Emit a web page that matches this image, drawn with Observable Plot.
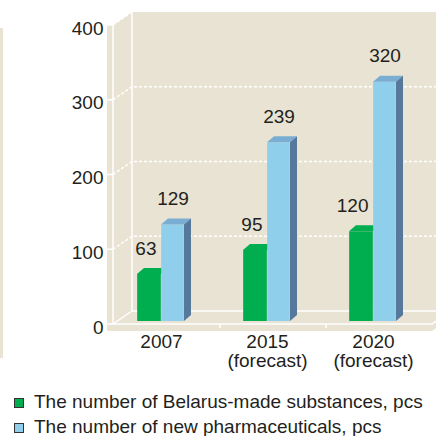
<!DOCTYPE html>
<html><head><meta charset="utf-8">
<script src="https://cdn.jsdelivr.net/npm/d3@7"></script>
<script src="https://cdn.jsdelivr.net/npm/@observablehq/plot@0.6"></script>
<style>
html,body{margin:0;padding:0;background:#fff;}
#wrap{position:relative;width:436px;height:436px;overflow:hidden;font-family:"Liberation Sans",Arial,Helvetica,sans-serif;color:#231f20;}
#strip{position:absolute;left:0;top:28px;width:3px;height:330px;background:#e8e3d3;}
#chart{position:absolute;left:0;top:0;}
#chart svg{display:block;}
#legend{position:absolute;left:0;top:389px;width:436px;}
.row{position:relative;height:25px;}
.sw{position:absolute;left:14px;top:9px;width:8px;height:8px;border:1px solid #333;}
.lab{position:absolute;left:34px;top:0;line-height:25px;font-size:19px;white-space:nowrap;}
</style></head>
<body><div id="wrap"><div id="strip"></div><div id="chart"></div><div id="legend"></div></div>
<script>
// ---- data ----
const years = ["2007", "2015", "2020"];
const yearLabels = ["2007", "2015\n(forecast)", "2020\n(forecast)"];
const substances = [63, 95, 120];
const pharmaceuticals = [129, 239, 320];
const seriesNames = ["The number of Belarus-made substances, pcs", "The number of new pharmaceuticals, pcs"];
const yTicks = [0, 100, 200, 300, 400];

// ---- styling ----
const GREEN = "#00ad4f", BLUE = "#8fcfec", BLUE_TOP = "#79aed2", BLUE_SIDE = "#56789a";
const BEIGE = "#e8e3d3";
const W = 436, H = 380, ML = 107, MR = 10, MT = 25, MB = 56;
const BW = (W - ML - MR) / years.length;
const BAR_DY = -3, DX = 7, DY = -6;       // bar depth
const STRIP = 6, WX = 19, WY = -13, SLAB = 7; // wall depth

const green = years.map((y, i) => ({year: y, value: substances[i]}));
const blue = years.map((y, i) => ({year: y, value: pharmaceuticals[i]}));

function pts(a) { return a.map(p => p.join(",")).join(" "); }

function decor(index, scales, values, dims) {
  const x = scales.x, y = scales.y;
  const Wd = dims.width;
  const L = dims.marginLeft, R = dims.width - dims.marginRight;
  const fx0 = L + STRIP, fxR = R + STRIP, bx = fx0 + WX;
  const yT = y(400), y0 = y(0);
  const g = d3.create("svg:g");
  g.append("polygon").attr("fill", BEIGE).attr("points", pts([
    [L, yT], [fx0, yT], [bx, yT + WY], [Wd, yT + WY], [Wd, y0 + WY],
    [Wd, y0 + SLAB + (Wd - fxR) * WY / WX], [fxR, y0 + SLAB], [L, y0 + SLAB]]));
  const line = (a, dash) => {
    const p = g.append("polyline").attr("points", pts(a)).attr("fill", "none")
      .attr("stroke", "#fff").attr("stroke-width", 1.5);
    if (dash) p.attr("stroke-dasharray", "3,2");
  };
  // gridlines (dotted)
  for (const v of yTicks) {
    if (v > 0 && v < 400) line([[fx0, y(v)], [bx, y(v) + WY], [Wd, y(v) + WY]], true);
  }
  line([[fx0, yT], [bx, yT + WY]], true);
  line([[fx0, yT], [fx0, y0]]);
  line([[bx, yT + WY], [bx, y0 + WY]]);
  line([[bx, y0 + WY], [Wd, y0 + WY]]);
  line([[fx0, y0], [bx, y0 + WY]]);
  line([[fx0, y0], [fxR, y0], [fxR + WX, y0 + WY]]);
  for (const v of yTicks) line([[L, y(v)], [fx0, y(v)]]);
  for (let i = 1; i < years.length; i++) {
    const xb = x(years[i]) + STRIP;
    line([[xb, y0], [xb, y0 + 4]]);
  }
  return g.node();
}

function faces(data, x0off, x1off, topColor, sideColor) {
  return (index, scales) => {
    const x = scales.x, y = scales.y;
    const bw = typeof x.bandwidth === "function" ? x.bandwidth() : BW;
    const g = d3.create("svg:g");
    for (const d of data) {
      const c = x(d.year) + bw / 2;
      const xa = c + x0off, xb = c + x1off;
      const top = y(d.value) + BAR_DY, base = y(0) + BAR_DY;
      g.append("polygon").attr("fill", topColor)
        .attr("points", pts([[xa, top], [xa + DX, top + DY], [xb + DX, top + DY], [xb, top]]));
      if (sideColor) g.append("polygon").attr("fill", sideColor)
        .attr("points", pts([[xb, top], [xb + DX, top + DY], [xb + DX, base + DY], [xb, base]]));
    }
    return g.node();
  };
}

const chart = Plot.plot({
  width: W, height: H,
  marginLeft: ML, marginRight: MR, marginTop: MT, marginBottom: MB,
  x: {domain: years, padding: 0, label: null},
  y: {domain: [0, 400], label: null},
  style: {fontFamily: "'Liberation Sans', Arial, Helvetica, sans-serif", fontSize: "19px", color: "#231f20", background: "transparent", overflow: "visible"},
  marks: [
    decor,
    Plot.barY(green, {x: "year", y: "value", fill: GREEN, dy: BAR_DY, insetLeft: BW / 2 - 24, insetRight: BW / 2}),
    faces(green, -24, 0, GREEN, null),
    Plot.barY(blue, {x: "year", y: "value", fill: BLUE, dy: BAR_DY, insetLeft: BW / 2, insetRight: BW / 2 - 23}),
    faces(blue, 0, 23, BLUE_TOP, BLUE_SIDE),
    Plot.text(green, {x: "year", y: "value", text: d => String(d.value), dx: -5, dy: -29, textAnchor: "end", fontSize: 19, fill: "#231f20"}),
    Plot.text(blue, {x: "year", y: "value", text: d => String(d.value), dx: 11.5, dy: -29, fontSize: 19, fill: "#231f20"}),
    Plot.axisY({ticks: yTicks, tickSize: 0, tickPadding: 4, dy: 3, fontSize: 19, label: null}),
    Plot.axisX({tickSize: 0, tickPadding: 10, lineHeight: 1, fontSize: 19, label: null,
      tickFormat: d => yearLabels[years.indexOf(d)]})
  ]
});
document.getElementById("chart").appendChild(chart);

const legend = document.getElementById("legend");
[GREEN, BLUE].forEach((col, i) => {
  const row = document.createElement("div");
  row.className = "row";
  const sw = document.createElement("span");
  sw.className = "sw"; sw.style.background = col;
  const lab = document.createElement("span");
  lab.className = "lab"; lab.textContent = seriesNames[i];
  row.appendChild(sw); row.appendChild(lab);
  legend.appendChild(row);
});
</script>
</body></html>
